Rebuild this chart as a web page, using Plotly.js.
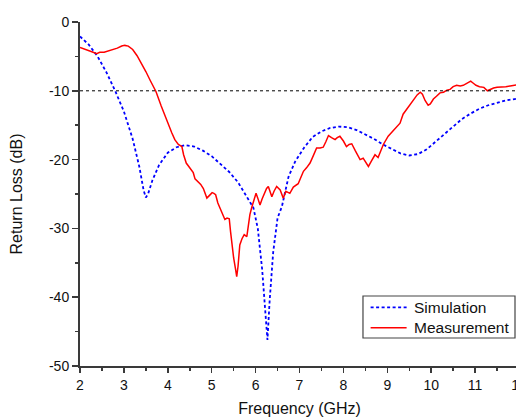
<!DOCTYPE html>
<html>
<head>
<meta charset="utf-8">
<script src="https://cdn.plot.ly/plotly-3.0.1.min.js"></script>
<style>
html,body{margin:0;padding:0;overflow:hidden;background:#fff;}
#chart{width:530px;height:417px;}
</style>
</head>
<body>
<div id="chart"></div>
<script>
// Simulation (blue dotted)
const simFreq = [2.0, 2.2, 2.4, 2.6, 2.8, 3.0, 3.2, 3.35, 3.45, 3.5, 3.55, 3.65, 3.8, 4.0, 4.2, 4.4, 4.6, 4.8, 5.0, 5.2, 5.4, 5.6, 5.8, 5.95, 6.05, 6.15, 6.22, 6.27, 6.32, 6.4, 6.5, 6.6, 6.75, 6.9, 7.1, 7.3, 7.5, 7.7, 7.9, 8.1, 8.3, 8.5, 8.7, 8.9, 9.1, 9.3, 9.5, 9.7, 9.9, 10.1, 10.3, 10.5, 10.7, 10.9, 11.1, 11.3, 11.5, 11.7, 11.9, 12.0];
const simRL = [-2.1, -3.3, -5.0, -7.3, -10.0, -13.0, -17.0, -21.0, -24.5, -25.5, -25.0, -23.0, -20.8, -19.0, -18.2, -17.9, -18.1, -18.7, -19.5, -20.6, -21.8, -23.3, -25.4, -27.0, -30.0, -36.0, -42.0, -46.2, -40.5, -33.5, -28.5, -26.8, -22.5, -20.3, -18.3, -16.7, -15.9, -15.4, -15.2, -15.3, -15.7, -16.3, -17.0, -17.8, -18.5, -19.1, -19.4, -19.2, -18.5, -17.4, -16.3, -15.1, -14.1, -13.3, -12.6, -12.1, -11.7, -11.4, -11.2, -11.1];

// Measurement (red solid)
const measFreq = [2.0, 2.1, 2.2, 2.3, 2.38, 2.45, 2.55, 2.64, 2.75, 2.85, 2.95, 3.02, 3.1, 3.2, 3.3, 3.4, 3.5, 3.6, 3.73, 3.85, 3.94, 4.02, 4.09, 4.16, 4.24, 4.32, 4.36, 4.42, 4.5, 4.58, 4.62, 4.68, 4.75, 4.81, 4.85, 4.89, 4.95, 5.01, 5.05, 5.09, 5.14, 5.19, 5.25, 5.30, 5.35, 5.40, 5.43, 5.46, 5.50, 5.54, 5.57, 5.6, 5.64, 5.69, 5.74, 5.80, 5.83, 5.87, 5.91, 5.96, 6.01, 6.05, 6.10, 6.15, 6.20, 6.25, 6.29, 6.33, 6.37, 6.42, 6.48, 6.56, 6.63, 6.69, 6.74, 6.78, 6.86, 6.97, 7.03, 7.09, 7.16, 7.24, 7.31, 7.39, 7.47, 7.54, 7.6, 7.66, 7.73, 7.81, 7.86, 7.92, 8.0, 8.07, 8.13, 8.19, 8.27, 8.33, 8.38, 8.45, 8.51, 8.57, 8.64, 8.72, 8.79, 8.85, 8.91, 9.02, 9.1, 9.18, 9.29, 9.36, 9.45, 9.52, 9.6, 9.68, 9.75, 9.8, 9.86, 9.93, 9.98, 10.05, 10.12, 10.2, 10.28, 10.36, 10.43, 10.5, 10.58, 10.66, 10.73, 10.82, 10.9, 10.96, 11.02, 11.1, 11.2, 11.28, 11.34, 11.42, 11.5, 11.6, 11.7, 11.8, 11.9, 12.0];
const measRL = [-3.7, -3.9, -4.1, -4.4, -4.6, -4.4, -4.4, -4.25, -4.0, -3.8, -3.5, -3.4, -3.5, -4.0, -4.9, -6.0, -7.2, -8.5, -10.1, -12.2, -13.7, -15.2, -16.1, -17.1, -17.8, -18.1, -19.3, -20.5, -21.2, -21.9, -22.8, -23.2, -23.6, -24.2, -25.0, -25.6, -25.2, -24.8, -24.9, -25.1, -26.3, -27.0, -27.8, -28.7, -28.5, -28.6, -30.5, -32.6, -34.3, -35.8, -37.0, -35.5, -32.4, -31.5, -30.9, -31.2, -29.7, -28.0, -27.0, -25.8, -24.9, -25.6, -26.6, -25.7, -24.9, -24.2, -23.9, -24.6, -25.4, -24.6, -23.9, -24.4, -25.6, -24.6, -24.8, -24.9, -24.0, -23.5, -22.6, -21.7, -21.2, -20.5, -19.5, -18.3, -18.3, -18.2, -17.4, -16.5, -16.8, -17.1, -16.8, -16.6, -17.3, -18.1, -17.8, -17.7, -18.7, -19.5, -20.0, -19.8, -20.4, -21.0, -20.2, -19.3, -19.7, -18.8, -17.8, -16.6, -16.0, -15.4, -14.7, -13.4, -12.6, -12.0, -11.4, -10.6, -10.2, -10.5, -11.4, -12.1, -11.9, -11.2, -10.8, -10.3, -10.2, -9.9, -9.8, -9.4, -9.2, -9.3, -9.2, -8.9, -8.6, -8.9, -9.2, -9.4, -9.5, -10.0, -9.8, -9.6, -9.5, -9.5, -9.4, -9.3, -9.2, -9.1];

const seriesNames = ["Simulation", "Measurement"];
const xTickVals = [2, 3, 4, 5, 6, 7, 8, 9, 10, 11, 12];
const xTickText = ["2", "3", "4", "5", "6", "7", "8", "9", "10", "11", "12"];
const yTickVals = [0, -10, -20, -30, -40, -50];
const yTickText = ["0", "-10", "-20", "-30", "-40", "-50"];
const thresholdDb = -10;

const font = "Liberation Sans, Arial, sans-serif";
const axisColor = "#3a3a3a";
const simLine = {color: "#0000ff", width: 1.8, dash: "3px,2.5px"};
const measLine = {color: "#ff0000", width: 1.5};

const traces = [
  {x: simFreq, y: simRL, name: seriesNames[0], mode: "lines", type: "scatter", line: simLine},
  {x: measFreq, y: measRL, name: seriesNames[1], mode: "lines", type: "scatter", line: measLine}
];

// Boxed legend (paper coordinates)
const lg = {x0: 0.6446, x1: 0.9909, y0: 0.0814, y1: 0.2035, lx0: 0.662, lx1: 0.744, tx: 0.757, rows: [0.1706, 0.1113]};

const layout = {
  width: 530, height: 417,
  margin: {l: 80, r: 11, t: 22, b: 51},
  paper_bgcolor: "#fff", plot_bgcolor: "#fff",
  font: {family: font, color: "#111", size: 14},
  showlegend: false,
  xaxis: {range: [2, 12], tickvals: xTickVals, ticktext: xTickText,
          showgrid: false, zeroline: false, showline: true, linecolor: axisColor, linewidth: 2,
          ticks: "outside", ticklen: 5, tickwidth: 1.5, tickcolor: axisColor,
          minor: {dtick: 0.5, ticks: "outside", ticklen: 3, tickwidth: 1.5, tickcolor: axisColor},
          tickfont: {family: font, size: 14, color: "#111"},
          title: {text: "Frequency (GHz)", font: {family: font, size: 16, color: "#111"}, standoff: 12}},
  yaxis: {range: [-50, 0], tickvals: yTickVals, ticktext: yTickText,
          showgrid: false, zeroline: false, showline: true, linecolor: axisColor, linewidth: 2,
          ticks: "outside", ticklen: 6, tickwidth: 1.5, tickcolor: axisColor,
          minor: {dtick: 5, tick0: 0, ticks: "outside", ticklen: 3, tickwidth: 1.5, tickcolor: axisColor},
          tickfont: {family: font, size: 14, color: "#111"},
          title: {text: "Return Loss (dB)", font: {family: font, size: 16, color: "#111"}, standoff: 22}},
  shapes: [
    {type: "line", xref: "paper", x0: 0, x1: 1, yref: "y", y0: thresholdDb, y1: thresholdDb,
     line: {color: "#000", width: 1, dash: "dot"}},
    {type: "rect", xref: "paper", yref: "paper", x0: lg.x0, x1: lg.x1, y0: lg.y0, y1: lg.y1,
     fillcolor: "#fff", line: {color: "#444", width: 1.2}, layer: "above"},
    {type: "line", xref: "paper", yref: "paper", x0: lg.lx0, x1: lg.lx1, y0: lg.rows[0], y1: lg.rows[0],
     line: simLine, layer: "above"},
    {type: "line", xref: "paper", yref: "paper", x0: lg.lx0, x1: lg.lx1, y0: lg.rows[1], y1: lg.rows[1],
     line: measLine, layer: "above"}
  ],
  annotations: seriesNames.map((n, i) => ({
    text: n, xref: "paper", yref: "paper", x: lg.tx, y: lg.rows[i], xanchor: "left", yanchor: "middle",
    showarrow: false, font: {family: font, size: 15.5, color: "#111"}
  }))
};

Plotly.newPlot("chart", traces, layout, {displayModeBar: false, staticPlot: true});
</script>
</body>
</html>
